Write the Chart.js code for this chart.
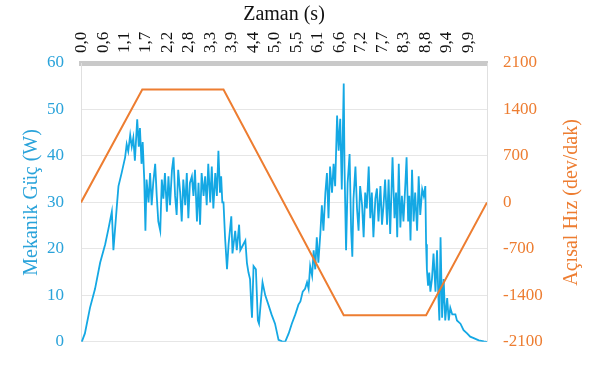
<!DOCTYPE html>
<html>
<head>
<meta charset="utf-8">
<script src="https://cdn.jsdelivr.net/npm/chart.js@4"></script>
<style>
  html, body { margin: 0; padding: 0; background: #fff; }
  #wrap { width: 589px; height: 369px; }
</style>
</head>
<body>
<div id="wrap"><canvas id="grafico" width="589" height="369"></canvas></div>
<script>
// eixo x (tempo, s)
const xTickValues = [0, 0.55, 1.1, 1.65, 2.2, 2.75, 3.3, 3.85, 4.4, 4.95, 5.5, 6.05, 6.6, 7.15, 7.7, 8.25, 8.8, 9.35, 9.9];
const xTickLabels = ['0,0', '0,6', '1,1', '1,7', '2,2', '2,8', '3,3', '3,9', '4,4', '5,0', '5,5', '6,1', '6,6', '7,2', '7,7', '8,3', '8,8', '9,4', '9,9'];

// mekanik güç (W)
const powerTime = [0.02,0.10,0.23,0.36,0.49,0.62,0.70,0.79,0.83,0.92,
  0.96,1.04,1.13,1.17,1.21,1.26,1.30,1.34,1.38,1.44,
  1.48,1.51,1.55,1.58,1.62,1.65,1.68,1.73,1.77,1.81,
  1.85,1.90,1.94,1.98,2.03,2.07,2.11,2.15,2.20,2.24,
  2.28,2.33,2.37,2.41,2.45,2.49,2.54,2.58,2.62,2.67,
  2.71,2.75,2.79,2.84,2.88,2.92,2.97,3.01,3.05,3.09,
  3.14,3.18,3.22,3.26,3.31,3.35,3.39,3.44,3.48,3.52,
  3.56,3.59,3.62,3.65,3.69,3.74,3.78,3.85,3.88,3.95,
  3.99,4.05,4.08,4.16,4.21,4.25,4.29,4.33,4.36,4.38,
  4.42,4.48,4.53,4.56,4.60,4.65,4.72,4.80,4.88,4.97,
  5.06,5.15,5.23,5.32,5.40,5.49,5.57,5.62,5.68,5.74,
  5.79,5.83,5.87,5.92,5.96,6.00,6.04,6.08,6.13,6.17,
  6.21,6.26,6.30,6.34,6.38,6.43,6.47,6.51,6.56,6.60,
  6.64,6.68,6.73,6.75,6.79,6.83,6.88,6.92,6.95,6.98,
  7.03,7.07,7.11,7.15,7.20,7.24,7.28,7.32,7.37,7.41,
  7.45,7.49,7.54,7.58,7.62,7.67,7.71,7.75,7.79,7.84,
  7.88,7.92,7.98,8.03,8.07,8.10,8.14,8.18,8.22,8.26,
  8.31,8.34,8.38,8.41,8.44,8.48,8.52,8.56,8.61,8.65,
  8.69,8.74,8.78,8.82,8.84,8.86,8.89,8.92,8.95,8.99,
  9.03,9.08,9.12,9.15,9.18,9.21,9.25,9.29,9.33,9.38,
  9.42,9.46,9.51,9.59,9.63,9.72,9.80,9.89,9.97,10.06,
  10.19,10.32,10.40];
const powerW = [0,1.8,7.3,11.4,17,21,24.2,28,19.7,29.4,
  33.5,36.3,39.7,42.5,41,44.5,42,43.9,39,47.9,
  42,46,38.3,43,35,23.9,34.9,30,36.3,29.4,
  34.2,38.3,31.4,25.9,23.9,34.9,30.8,36.3,28,35.6,
  29.4,37,39.7,31.4,27.3,37,32.1,25.9,34.9,29.4,
  36.3,26.6,34.2,35.6,31.4,37,25.9,34.2,25.2,36.3,
  31.4,35.6,29.4,38.3,30,37.7,28.7,36.3,31.4,41.1,
  32.1,35.6,30,30,22.5,15.6,21,27,19,23.9,
  19.7,25.2,19.7,21,21.8,17,14.9,13.5,8,5.2,
  16.3,15.6,4.6,3.9,8,12.8,10,8,5.9,3.9,
  0.4,0.1,0,1.8,3.9,5.9,8,8.7,10.8,11.4,
  12.8,11.4,16.3,14.2,19.7,15.6,22.5,17,23.2,29.4,
  23.9,32.1,36.3,26.6,37.7,32.1,38.3,33.5,48.7,41.1,
  48,32.8,55.6,37.7,19.7,34.2,40.4,23.9,18.3,30.8,
  37.7,28.7,23.9,33.5,29.4,22.5,32.1,28.7,37.7,26.6,
  32.1,22.5,30.8,33,25.9,33.5,25.2,29.4,34.9,25.2,
  34.9,23.2,39.7,26.6,32.1,22.5,38.3,24.6,31.4,25.9,
  34.2,39.7,25.9,31.4,21.8,37,25.9,32.1,23.9,35.6,
  27.3,32.8,31.4,33.5,21,15.6,12.1,14.9,10.8,13.5,
  19,10.8,19.7,10.8,4.6,22.5,5.2,13.5,4.6,9.4,
  4.6,7.3,5.9,5.9,4.6,3.9,2.5,1.8,1.1,0.8,
  0.3,0.1,0];

// açısal hız (dev/dak)
const speedTime = [0, 1.57, 3.65, 6.73, 8.84, 10.4];
const speedRpm = [0, 1700, 1700, -1700, -1700, 0];

const corAzul = '#14a8e4';
const corTextoAzul = '#2aa3da';
const corLaranja = '#ed7d31';
const fonte = 'Liberation Serif, Times New Roman, serif';

// titulo do eixo direito (lido de baixo para cima)
const tituloDireita = {
  id: 'tituloDireita',
  afterDraw(chart) {
    const ctx = chart.ctx;
    const area = chart.chartArea;
    ctx.save();
    ctx.translate(572, (area.top + area.bottom) / 2);
    ctx.rotate(-Math.PI / 2);
    ctx.font = '20px ' + fonte;
    ctx.fillStyle = corLaranja;
    ctx.textAlign = 'center';
    ctx.textBaseline = 'middle';
    ctx.fillText('Açısal Hız (dev/dak)', 0, 0);
    ctx.restore();
  }
};

const chart = new Chart(document.getElementById('grafico').getContext('2d'), {
  type: 'line',
  data: {
    datasets: [
      {
        label: 'Açısal Hız',
        data: speedTime.map((t, i) => ({ x: t, y: speedRpm[i] })),
        borderColor: corLaranja,
        borderWidth: 2,
        pointRadius: 0,
        tension: 0,
        yAxisID: 'y1'
      },
      {
        label: 'Mekanik Güç',
        data: powerTime.map((t, i) => ({ x: t, y: powerW[i] })),
        borderColor: corAzul,
        borderWidth: 1.8,
        pointRadius: 0,
        tension: 0,
        yAxisID: 'y'
      }
    ]
  },
  options: {
    responsive: false,
    devicePixelRatio: 1,
    animation: false,
    layout: { padding: { left: 0, right: 0, top: 0, bottom: 17 } },
    plugins: {
      legend: { display: false },
      tooltip: { enabled: false }
    },
    scales: {
      x: {
        type: 'linear',
        position: 'top',
        min: 0,
        max: 10.4,
        afterBuildTicks: (scale) => { scale.ticks = xTickValues.map(v => ({ value: v })); },
        afterFit: (scale) => { scale.height = 63; },
        grid: { display: false, drawTicks: false },
        border: { display: true, color: '#c9c9c9', width: 5 },
        ticks: {
          autoSkip: false,
          minRotation: 90,
          maxRotation: 90,
          padding: 10,
          labelOffset: 21,
          color: '#111',
          font: { family: fonte, size: 17 },
          callback: (v, i) => xTickLabels[i] || ''
        },
        title: {
          display: true,
          text: 'Zaman (s)',
          color: '#111',
          font: { family: fonte, size: 20 },
          padding: { top: 3, bottom: 0 }
        }
      },
      y: {
        position: 'left',
        min: 0,
        max: 60,
        afterFit: (scale) => { scale.width = 81; },
        grid: { color: '#e6e6e6', drawTicks: false },
        border: { display: true, color: '#e0e0e0', width: 1 },
        ticks: {
          stepSize: 10,
          padding: 17,
          color: corTextoAzul,
          font: { family: fonte, size: 17 }
        },
        title: {
          display: true,
          text: 'Mekanik Güç (W)',
          color: corTextoAzul,
          font: { family: fonte, size: 20 },
          padding: { top: 20, bottom: 0 }
        }
      },
      y1: {
        position: 'right',
        min: -2100,
        max: 2100,
        afterFit: (scale) => { scale.width = 102; },
        grid: { display: false, drawTicks: false },
        border: { display: true, color: '#e0e0e0', width: 1 },
        ticks: {
          stepSize: 700,
          padding: 16,
          color: corLaranja,
          font: { family: fonte, size: 17 },
          callback: (v) => String(v)
        }
      }
    }
  },
  plugins: [tituloDireita]
});
</script>
</body>
</html>
